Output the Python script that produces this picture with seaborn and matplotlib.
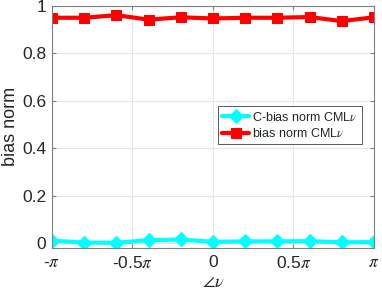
import numpy as np
import pandas as pd
import matplotlib
matplotlib.use('Agg')
import matplotlib.pyplot as plt
import seaborn as sns

# angle of nu, in units of pi
angle_pi = [-1.0, -0.8, -0.6, -0.4, -0.2, 0.0, 0.2, 0.4, 0.6, 0.8, 1.0]
c_bias = [0.010, 0.002, 0.001, 0.012, 0.015, 0.005, 0.007, 0.007, 0.008, 0.003, 0.004]
bias = [0.950, 0.950, 0.961, 0.942, 0.952, 0.947, 0.950, 0.950, 0.953, 0.936, 0.952]

xtick_pos = [-1.0, -0.5, 0.0, 0.5, 1.0]
xtick_labels = [r'-$\pi$', r'-0.5$\pi$', '0', r'0.5$\pi$', r'$\pi$']
ytick_pos = [0, 0.2, 0.4, 0.6, 0.8, 1.0]
ytick_labels = ['0', '0.2', '0.4', '0.6', '0.8', '1']

df = pd.DataFrame({'angle': np.array(angle_pi) * np.pi, 'c_bias': c_bias, 'bias': bias})

sns.set_style('whitegrid')
plt.rcParams['font.family'] = ['Liberation Sans', 'DejaVu Sans']
plt.rcParams['mathtext.fontset'] = 'stix'

fig = plt.figure(figsize=(3.82, 2.95), dpi=100)
ax = fig.add_axes([0.136, 0.16, 0.843, 0.82])

sns.lineplot(data=df, x='angle', y='c_bias', ax=ax, color='cyan', lw=3,
             marker='D', markersize=7, markeredgecolor='cyan',
             label=r'C-bias norm CML$\nu$')
sns.lineplot(data=df, x='angle', y='bias', ax=ax, color='red', lw=3,
             marker='s', markersize=6.5, markeredgecolor='red',
             label=r'bias norm CML$\nu$')

ax.set_xlim(-np.pi, np.pi)
ax.set_ylim(-0.02, 1.0)
ax.set_xticks(np.array(xtick_pos) * np.pi)
ax.set_xticklabels(xtick_labels)
ax.set_yticks(ytick_pos)
ax.set_yticklabels(ytick_labels)
ax.tick_params(labelsize=12.5, direction='in', length=3, color='#808080',
               top=True, right=True, bottom=True, left=True, pad=4)
ax.tick_params(axis='x', pad=5)
ax.grid(True, color='#e6e6e6', lw=0.8)
for s in ax.spines.values():
    s.set_color('#808080')
    s.set_linewidth(0.8)
ax.set_xlabel(r'$\angle\nu$', fontsize=13, labelpad=2)
ax.set_ylabel('bias norm', fontsize=13, labelpad=2)

leg = ax.legend(loc='upper right', bbox_to_anchor=(0.982, 0.61), fontsize=9,
                frameon=True, fancybox=False, framealpha=1, edgecolor='#404040',
                handlelength=2.2, borderpad=0.35, labelspacing=0.25, handletextpad=0.2)
leg.get_frame().set_linewidth(0.6)

fig.savefig('out.png', dpi=100)
